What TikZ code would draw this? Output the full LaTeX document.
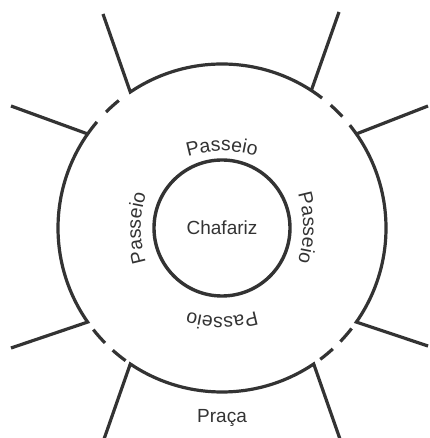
\documentclass[tikz,border=0pt]{standalone}
\usepackage{fontspec}
\setmainfont{Liberation Sans}
\usetikzlibrary{decorations.text}
\definecolor{linecol}{HTML}{333333}
\begin{document}
\begin{tikzpicture}
    [x=1pt,y=1pt,
     wall/.style={draw=linecol,line width=3.2pt},
     place/.style={text=linecol,font=\fontsize{19}{19}\selectfont,inner sep=0pt},
     walk/.style={decorate,decoration={text along path,text align=center,
       text={|\fontsize{19.5}{19.5}\selectfont\color{linecol}|Passeio}}}]
    \useasboundingbox (0,0) rectangle (429,438);
    \clip (0,0) rectangle (429,438);
    \begin{scope}[shift={(222,210)}]
    \node (fountain) at (0,0) [place] {Chafariz};
    \node (square) at (0,-190) [place] {Praça};
    \draw[wall,line width=3.4pt] (0,0) circle (68);

    \draw[wall] (-119,214) -- (124:164) arc[start angle=124,end angle=52.4,radius=164];
    \draw[wall] (117,216) -- (57:164);
    \draw[wall] (206,122) -- (35:164);
    \draw[wall] (38.8:164) arc[start angle=38.8,end angle=-35,radius=164] -- (206,-118);
    \draw[wall] (-119,-214) -- (236:164) arc[start angle=236,end angle=304,radius=164] -- (119,-214);
    \draw[wall] (-211,122) -- (145:164);
    \draw[wall] (139.7:164) arc[start angle=139.7,end angle=215,radius=164] -- (-211,-120);

    % broken parts of the ring
    \draw[wall] (48.5:164) arc[start angle=48.5,end angle=42.8,radius=164];
    \draw[wall] (129:164) arc[start angle=129,end angle=135,radius=164];
    \draw[wall] (218.3:164) arc[start angle=218.3,end angle=224.5,radius=164];
    \draw[wall] (228.2:164) arc[start angle=228.2,end angle=234,radius=164];
    \draw[wall] (-37.8:164) arc[start angle=-37.8,end angle=-43.8,radius=164];
    \draw[wall] (-47.5:164) arc[start angle=-47.5,end angle=-53.2,radius=164];

    \path[walk] (-37,71) to[bend left=16] (37,71);
    \path[walk] (75.5,36) to[bend left=16] (75.5,-36);
    \path[walk] (-75.5,-36) to[bend left=16] (-75.5,36);
    \path[walk] (37,-83) to[bend left=16] (-37,-83);
    \end{scope}
\end{tikzpicture}
\end{document}
